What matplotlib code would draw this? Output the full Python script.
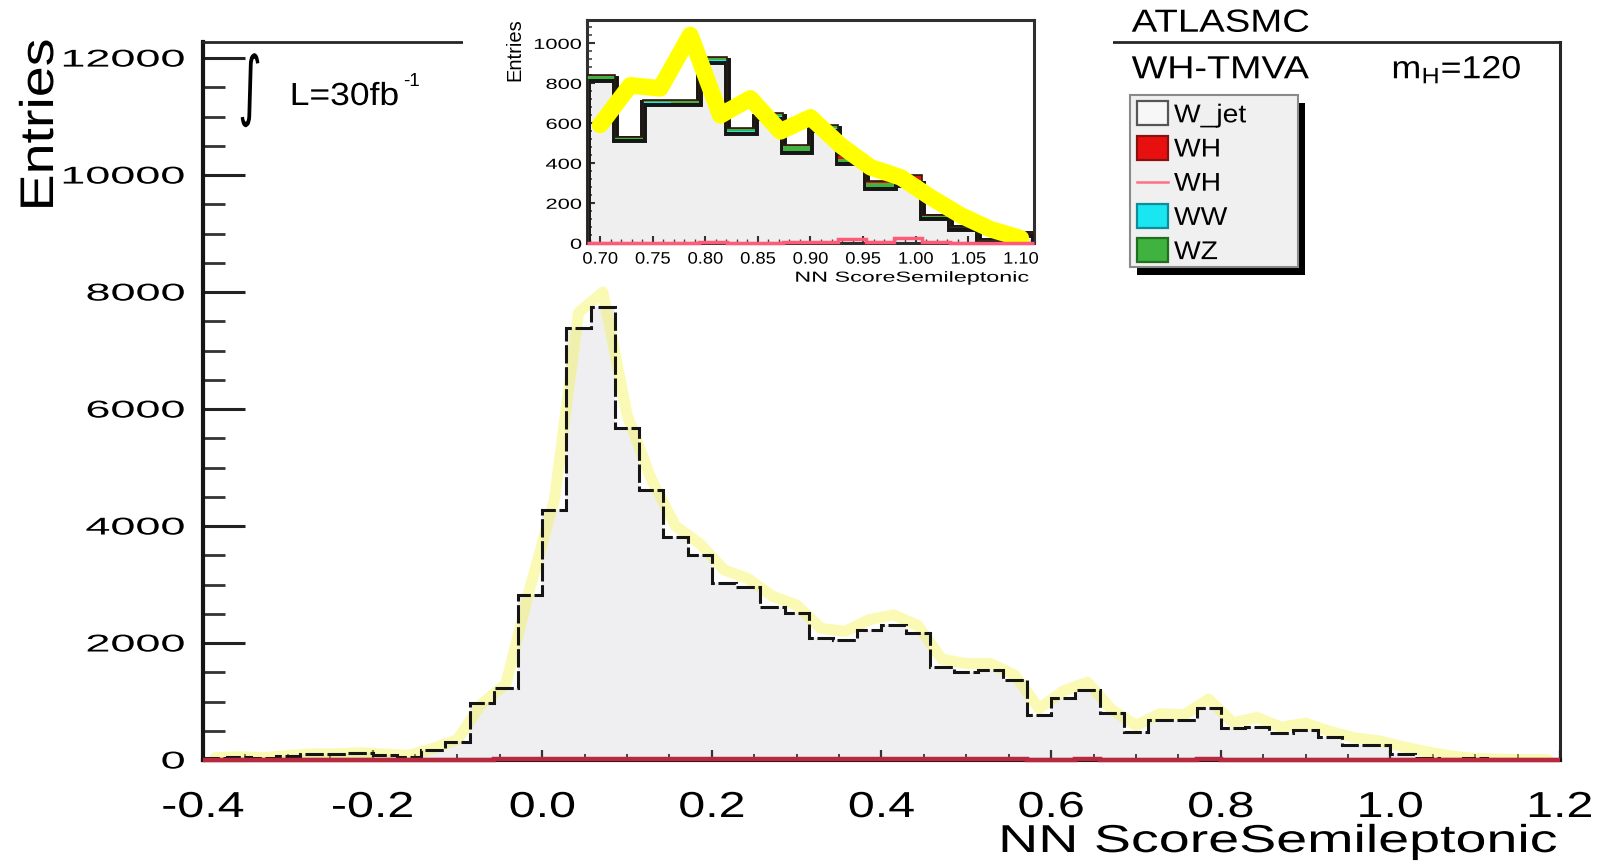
import numpy as np
import matplotlib
matplotlib.use("Agg")
import matplotlib.pyplot as plt
from matplotlib.patches import Rectangle
from matplotlib.lines import Line2D
from matplotlib.patheffects import AbstractPathEffect
from matplotlib.transforms import Affine2D
from matplotlib.ticker import MultipleLocator

# ---------------- data ----------------
score_lo, score_hi, n_bins = -0.4, 1.2, 56

wjet_counts = [28, 45, 28, 68, 97, 97, 114, 85, 57, 171,
               313, 969, 1225, 2820, 4273, 7378, 7747, 5669, 4614, 3817,
               3503, 3020, 2962, 2620, 2507, 2080, 2051, 2222, 2307, 2165,
               1595, 1509, 1538, 1367, 769, 1054, 1196, 798, 484, 684,
               684, 883, 541, 569, 456, 513, 398, 256, 256, 100,
               28, 10, 28, 10, 0, 0]

band_counts = [40, 55, 40, 75, 105, 105, 125, 100, 80, 200,
               350, 960, 1300, 2950, 4450, 7650, 8000, 5900, 4800, 4000,
               3700, 3250, 3100, 2800, 2650, 2250, 2200, 2400, 2480, 2300,
               1720, 1650, 1650, 1450, 880, 1180, 1330, 860, 592, 790,
               775, 1042, 640, 725, 560, 630, 490, 380, 330, 230,
               140, 70, 25, 15, 5, 5]

wh_counts = [0, 0, 0, 0, 1, 1, 1, 1, 1, 2,
             3, 8, 10, 15, 20, 25, 25, 20, 18, 15,
             14, 13, 12, 12, 12, 11, 11, 12, 12, 12,
             10, 10, 10, 9, 8, 8, 9, 8, 7, 8,
             8, 9, 7, 7, 6, 6, 5, 4, 4, 3,
             2, 1, 1, 0, 0, 0]

# zoomed tail shown in the inset
inset_lo, inset_hi, inset_bins = 0.6875, 1.1125, 16
inset_wjet = [822, 520, 704, 701, 914, 559, 634, 461, 574, 406, 280, 298, 131, 75, 14, 45]
inset_ww = [2, 2, 2, 2, 2, 2, 2, 2, 2, 2, 2, 2, 1, 1, 0, 0]
inset_wz = [15, 8, 8, 10, 12, 10, 10, 22, 10, 12, 20, 15, 5, 4, 2, 3]
inset_wh = [3, 3, 3, 4, 5, 4, 4, 5, 6, 20, 8, 25, 5, 3, 1, 2]

xtick_values = [-0.4, -0.2, 0.0, 0.2, 0.4, 0.6, 0.8, 1.0, 1.2]
xtick_labels = ["-0.4", "-0.2", "0.0", "0.2", "0.4", "0.6", "0.8", "1.0", "1.2"]
ytick_values = [0, 2000, 4000, 6000, 8000, 10000, 12000]
ytick_labels = ["0", "2000", "4000", "6000", "8000", "10000", "12000"]
inset_xtick_values = [0.70, 0.75, 0.80, 0.85, 0.90, 0.95, 1.00, 1.05, 1.10]
inset_xtick_labels = ["0.70", "0.75", "0.80", "0.85", "0.90", "0.95", "1.00", "1.05", "1.10"]
inset_ytick_values = [0, 200, 400, 600, 800, 1000]
inset_ytick_labels = ["0", "200", "400", "600", "800", "1000"]

legend_labels = ["W_jet", "WH", "WH", "WW", "WZ"]
legend_kinds = ["box", "box", "line", "box", "box"]
legend_faces = ["#f7f7f7", "#e8100f", "#ff6f86", "#19e6f0", "#3fb23f"]
legend_edges = ["#555555", "#8a1010", "#ff6f86", "#0f8c99", "#1f6f1f"]


# ---------------- helpers ----------------
class Stretch(AbstractPathEffect):
    """Scale glyph outlines about an anchor of their own extent."""

    def __init__(self, sx=1.0, sy=1.0, anchor="center"):
        super().__init__()
        self._sx, self._sy, self._anchor = sx, sy, anchor

    def draw_path(self, renderer, gc, tpath, affine, rgbFace=None):
        ext = tpath.get_extents(affine)
        if self._anchor == "left":
            cx = ext.x0
        elif self._anchor == "right":
            cx = ext.x1
        else:
            cx = 0.5 * (ext.x0 + ext.x1)
        cy = 0.5 * (ext.y0 + ext.y1)
        warp = Affine2D().translate(-cx, -cy).scale(self._sx, self._sy).translate(cx, cy)
        renderer.draw_path(gc, tpath, affine + warp, rgbFace)


plt.rcParams["font.family"] = ["Liberation Sans", "DejaVu Sans"]
plt.rcParams["axes.unicode_minus"] = False
plt.rcParams["mathtext.fontset"] = "custom"
plt.rcParams["mathtext.rm"] = "Liberation Sans"
plt.rcParams["mathtext.it"] = "Liberation Sans:italic"
plt.rcParams["mathtext.bf"] = "Liberation Sans:bold"

W, H = 1608, 868
fig = plt.figure(figsize=(W / 100, H / 100), dpi=100)
fig.patch.set_facecolor("white")


def fx(px):
    return px / W


def fy(py):
    return 1 - py / H


# ---------------- main frame ----------------
ax = fig.add_axes([fx(203), fy(760), fx(1560) - fx(203), fy(41.7) - fy(760)])
ax.set_zorder(0)
edges = np.linspace(score_lo, score_hi, n_bins + 1)
centers = 0.5 * (edges[:-1] + edges[1:])

ax.stairs(wjet_counts, edges, fill=True, facecolor="#efeff2", edgecolor="none", lw=0, zorder=1)
ax.plot(centers, band_counts, color="#f4f43a", alpha=0.38, lw=8,
        solid_capstyle="round", solid_joinstyle="round", zorder=2)
ax.stairs(wjet_counts, edges, color="#151515", lw=2.2, linestyle=(0, (6, 1.2)), zorder=3)
ax.stairs(wh_counts, edges, color="#b8283f", lw=3.2, zorder=4, clip_on=False)

ax.set_xlim(score_lo, score_hi)
ax.set_ylim(0, 12280)
ax.set_xticks(xtick_values, xtick_labels)
ax.set_yticks(ytick_values, ytick_labels)
ax.xaxis.set_minor_locator(MultipleLocator(0.05))
ax.yaxis.set_minor_locator(MultipleLocator(500))
ax.tick_params(axis="y", which="major", direction="in", length=30, width=2.2, color="#222222",
               pad=13, labelsize=17.5, left=True, right=False)
ax.tick_params(axis="y", which="minor", direction="in", length=16, width=2.0, color="#333333",
               left=True, right=False)
ax.tick_params(axis="x", which="major", direction="in", length=7.5, width=1.6, color="#333333",
               pad=21.6, labelsize=26, bottom=True, top=False)
ax.tick_params(axis="x", which="minor", direction="in", length=4.5, width=1.4, color="#444444",
               bottom=True, top=False)

for side, lw in (("left", 3.0), ("bottom", 3.0), ("top", 2.0), ("right", 2.2)):
    ax.spines[side].set_linewidth(lw)
    ax.spines[side].set_color("#151515" if side in ("left", "bottom") else "#262626")

for t in ax.yaxis.get_major_ticks():
    t.label1.set_path_effects([Stretch(1.85, 1.0, "right")])
for t in ax.xaxis.get_major_ticks():
    t.label1.set_path_effects([Stretch(1.34, 1.0, "center")])

ax.set_xlabel("NN ScoreSemileptonic", fontsize=28, ha="right", va="top")
ax.xaxis.set_label_coords((1557 - 203) / 1357, (760 - 824) / 718.3)
ax.xaxis.label.set_path_effects([Stretch(1.43, 1.0, "right")])

ax.set_ylabel("Entries", fontsize=40, ha="center", va="bottom")
ax.yaxis.set_label_coords((68 - 203) / 1357, (760 - 125) / 718.3)
ax.yaxis.label.set_path_effects([Stretch(0.85, 1.0, "center")])

# white pad behind the inset hides that part of the upper frame line
fig.add_artist(Rectangle((fx(463), fy(60)), fx(1113) - fx(463), fy(0) - fy(60),
                         transform=fig.transFigure, facecolor="white", edgecolor="none", zorder=1))

# ---------------- inset ----------------
axin = fig.add_axes([fx(587), fy(243.3), fx(1034) - fx(587), fy(20) - fy(243.3)])
axin.set_zorder(3)
in_edges = np.linspace(inset_lo, inset_hi, inset_bins + 1)
wj = np.array(inset_wjet, float)
s_ww = wj + np.array(inset_ww)
s_wz = s_ww + np.array(inset_wz)
s_wh = s_wz + np.array(inset_wh)

axin.stairs(wj, in_edges, fill=True, facecolor="#efefef", edgecolor="none", lw=0, zorder=1)
axin.stairs(wj, in_edges, color="#161616", lw=5, zorder=2)
axin.stairs(s_ww, in_edges, baseline=wj, fill=True, facecolor="#19e6f0", edgecolor="none", lw=0, zorder=3)
axin.stairs(s_wz, in_edges, baseline=s_ww, fill=True, facecolor="#3fb23f", edgecolor="none", lw=0, zorder=3)
axin.stairs(s_wh, in_edges, baseline=s_wz, fill=True, facecolor="#d8140f", edgecolor="none", lw=0, zorder=3)
axin.stairs(s_wh, in_edges, color="#2a1a10", lw=1.2, zorder=3.5)

in_view = (centers >= inset_lo) & (centers <= inset_hi)
axin.plot(centers[in_view], np.array(band_counts)[in_view], color="#ffff00", lw=12,
          solid_capstyle="round", solid_joinstyle="round", zorder=5)
axin.stairs(inset_wh, in_edges, color="#ff5a78", lw=2.5, zorder=6, clip_on=False)

axin.set_xlim(inset_lo, inset_hi)
axin.set_ylim(0, 1117)
axin.set_xticks(inset_xtick_values, inset_xtick_labels)
axin.set_yticks(inset_ytick_values, inset_ytick_labels)
axin.xaxis.set_minor_locator(MultipleLocator(0.01))
axin.yaxis.set_minor_locator(MultipleLocator(40))
axin.tick_params(axis="y", which="major", direction="in", length=6, width=1.5, color="#333333",
                 pad=3.6, labelsize=10.5)
axin.tick_params(axis="y", which="minor", direction="in", length=3.5, width=1.2, color="#444444")
axin.tick_params(axis="x", which="major", direction="in", length=5, width=1.5, color="#333333",
                 pad=6, labelsize=12)
axin.tick_params(axis="x", which="minor", direction="in", length=3, width=1.0, color="#444444")
for sp in axin.spines.values():
    sp.set_linewidth(2.2)
    sp.set_color("#303030")
for t in axin.yaxis.get_major_ticks():
    t.label1.set_path_effects([Stretch(1.5, 1.0, "right")])
for t in axin.xaxis.get_major_ticks():
    t.label1.set_path_effects([Stretch(1.1, 1.0, "center")])

axin.set_xlabel("NN ScoreSemileptonic", fontsize=10.5, ha="right", va="top")
axin.xaxis.set_label_coords((1030 - 587) / 447, (243.3 - 270.7) / 223.3)
axin.xaxis.label.set_path_effects([Stretch(1.6, 1.0, "right")])
axin.set_ylabel("Entries", fontsize=14.5, ha="center", va="bottom")
axin.yaxis.set_label_coords((524 - 587) / 447, (243.3 - 50) / 223.3)

# ---------------- annotations ----------------
fig.text(fx(250), fy(90), "\u222b", family="DejaVu Sans", fontsize=55,
         ha="center", va="center", zorder=5, path_effects=[Stretch(0.6, 1.0, "center")])
fig.text(fx(290), fy(105), "L=30fb", fontsize=23, ha="left", va="baseline", zorder=5,
         path_effects=[Stretch(1.11, 1.0, "left")])
fig.text(fx(403), fy(86), "-1", fontsize=13.5, ha="left", va="baseline", zorder=5)

fig.text(fx(1131.7), fy(31.7), "ATLASMC", fontsize=23, ha="left", va="baseline", zorder=5,
         path_effects=[Stretch(1.2, 1.0, "left")])
fig.text(fx(1131.7), fy(78.3), "WH-TMVA", fontsize=23, ha="left", va="baseline", zorder=5,
         path_effects=[Stretch(1.18, 1.0, "left")])
fig.text(fx(1391.7), fy(78.3), r"$\mathregular{m_{H}}$=120", fontsize=23, ha="left", va="baseline",
         zorder=5, path_effects=[Stretch(1.12, 1.0, "left")])

# ---------------- legend ----------------
lx0, lx1, ly0, ly1 = 1130, 1298, 95, 267
fig.add_artist(Rectangle((fx(lx0 + 7), fy(ly1 + 8)), fx(lx1) - fx(lx0), fy(ly0) - fy(ly1),
                         transform=fig.transFigure, facecolor="black", edgecolor="none", zorder=5))
fig.add_artist(Rectangle((fx(lx0), fy(ly1)), fx(lx1) - fx(lx0), fy(ly0) - fy(ly1),
                         transform=fig.transFigure, facecolor="#f0f0f0", edgecolor="#8a8a8a",
                         lw=1.5, zorder=6))
row0, pitch = 113.3, 34.2
for i, (lab, kind, fc, ec) in enumerate(zip(legend_labels, legend_kinds, legend_faces, legend_edges)):
    yc = row0 + i * pitch
    if kind == "box":
        fig.add_artist(Rectangle((fx(1137), fy(yc + 12)), fx(1168) - fx(1137), fy(yc - 12) - fy(yc + 12),
                                 transform=fig.transFigure, facecolor=fc, edgecolor=ec, lw=1.6, zorder=7))
    else:
        fig.add_artist(Line2D([fx(1137), fx(1168)], [fy(yc), fy(yc)], transform=fig.transFigure,
                              color=fc, lw=1.8, zorder=7))
    fig.text(fx(1174), fy(yc + 9), lab, fontsize=18.5, ha="left", va="baseline", zorder=8,
             path_effects=[Stretch(1.1, 1.0, "left")])

fig.savefig("out.png", dpi=100)
